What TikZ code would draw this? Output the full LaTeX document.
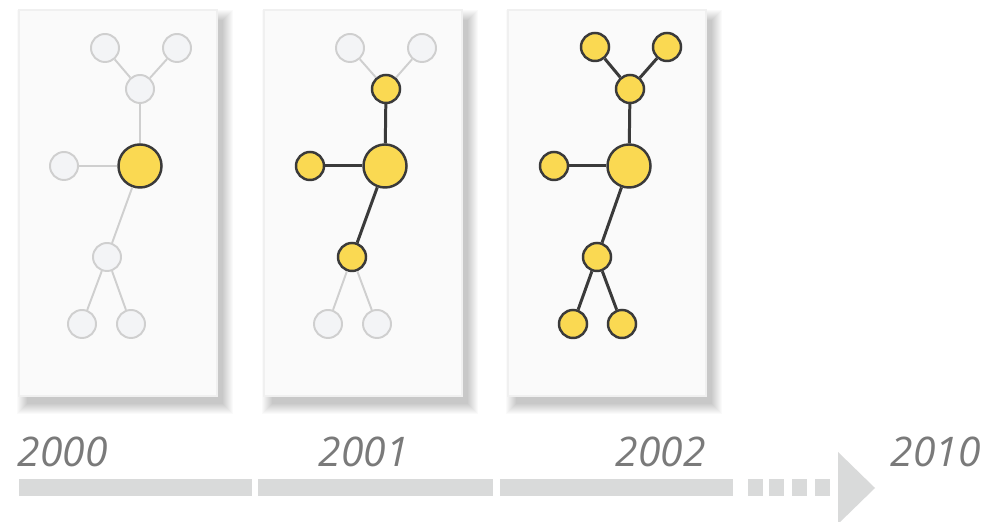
\documentclass[tikz,border=0pt]{standalone}
\usepackage{fontspec}
\newfontfamily\yearfont{Open Sans}
\definecolor{nodeyellow}{HTML}{FAD952}
\definecolor{nodeline}{HTML}{3A3A3A}
\definecolor{offline}{HTML}{CFCFCF}
\definecolor{offfill}{HTML}{F3F4F6}
\definecolor{panelfill}{HTML}{FAFAFA}
\definecolor{bargray}{HTML}{D9DADA}
\definecolor{yeargray}{HTML}{7A7A7A}

\begin{document}
\begin{tikzpicture}[x=0.01cm, y=-0.01cm,
    on/.style={circle, draw=nodeline, fill=nodeyellow, line width=0.7pt, minimum size=0.28cm, inner sep=0pt},
    off/.style={circle, draw=offline, fill=offfill, line width=0.55pt, minimum size=0.28cm, inner sep=0pt},
    big/.style={minimum size=0.43cm},
    onedge/.style={nodeline, line width=0.85pt},
    offedge/.style={offline, line width=0.55pt},
    panel/.style={fill=panelfill, draw=black!6, line width=0.3pt},
    year/.style={anchor=base west, inner sep=0pt, text=yeargray, font=\yearfont\itshape\fontsize{11.6}{12}\selectfont}]
  \useasboundingbox (0,0) rectangle (994,522);
  \fill[white] (0,0) rectangle (994,522);

  % panels with soft shadows
  \foreach \px in {19,264,508} {
    \foreach \r in {0,...,10}
      \fill[black, opacity=0.018] (\px+8-\r, 20-\r) rectangle (\px+198+6+\r, 396+8+\r);
    \draw[panel] (\px,10) rectangle (\px+198,396);
  }

  % 2000
  \node[on, big] (a0) at (140,166) {};
  \node[off] (a1) at (140,89) {};
  \node[off] (a2) at (105,48) {};
  \node[off] (a3) at (177,48) {};
  \node[off] (a4) at (64,166) {};
  \node[off] (a5) at (107,257) {};
  \node[off] (a6) at (82,324) {};
  \node[off] (a7) at (131,324) {};
  \draw[offedge] (a0) -- (a1);
  \draw[offedge] (a1) -- (a2);
  \draw[offedge] (a1) -- (a3);
  \draw[offedge] (a0) -- (a4);
  \draw[offedge] (a0) -- (a5);
  \draw[offedge] (a5) -- (a6);
  \draw[offedge] (a5) -- (a7);

  % 2001
  \node[on, big] (b0) at (385,166) {};
  \node[on] (b1) at (386,89) {};
  \node[off] (b2) at (350,48) {};
  \node[off] (b3) at (422,48) {};
  \node[on] (b4) at (310,166) {};
  \node[on] (b5) at (352,257) {};
  \node[off] (b6) at (328,324) {};
  \node[off] (b7) at (377,324) {};
  \draw[onedge] (b0) -- (b1);
  \draw[offedge] (b1) -- (b2);
  \draw[offedge] (b1) -- (b3);
  \draw[onedge] (b0) -- (b4);
  \draw[onedge] (b0) -- (b5);
  \draw[offedge] (b5) -- (b6);
  \draw[offedge] (b5) -- (b7);

  % 2002
  \node[on, big] (c0) at (629,166) {};
  \node[on] (c1) at (630,89) {};
  \node[on] (c2) at (595,47) {};
  \node[on] (c3) at (667,47) {};
  \node[on] (c4) at (554,166) {};
  \node[on] (c5) at (597,257) {};
  \node[on] (c6) at (573,324) {};
  \node[on] (c7) at (622,324) {};
  \draw[onedge] (c0) -- (c1);
  \draw[onedge] (c1) -- (c2);
  \draw[onedge] (c1) -- (c3);
  \draw[onedge] (c0) -- (c4);
  \draw[onedge] (c0) -- (c5);
  \draw[onedge] (c5) -- (c6);
  \draw[onedge] (c5) -- (c7);

  % time line
  \fill[bargray] (19,479) rectangle (252,496);
  \fill[bargray] (258,479) rectangle (493,496);
  \fill[bargray] (500,479) rectangle (733,496);
  \foreach \dx in {748,769,792,815}
    \fill[bargray] (\dx,479) rectangle (\dx+15,496);
  \fill[bargray] (838,452) -- (875,488) -- (838,524) -- cycle;

  \node[year] (y2000) at (17,467) {2000};
  \node[year] (y2001) at (318,467) {2001};
  \node[year] (y2002) at (615,467) {2002};
  \node[year] (y2010) at (890,467) {2010};
\end{tikzpicture}
\end{document}
